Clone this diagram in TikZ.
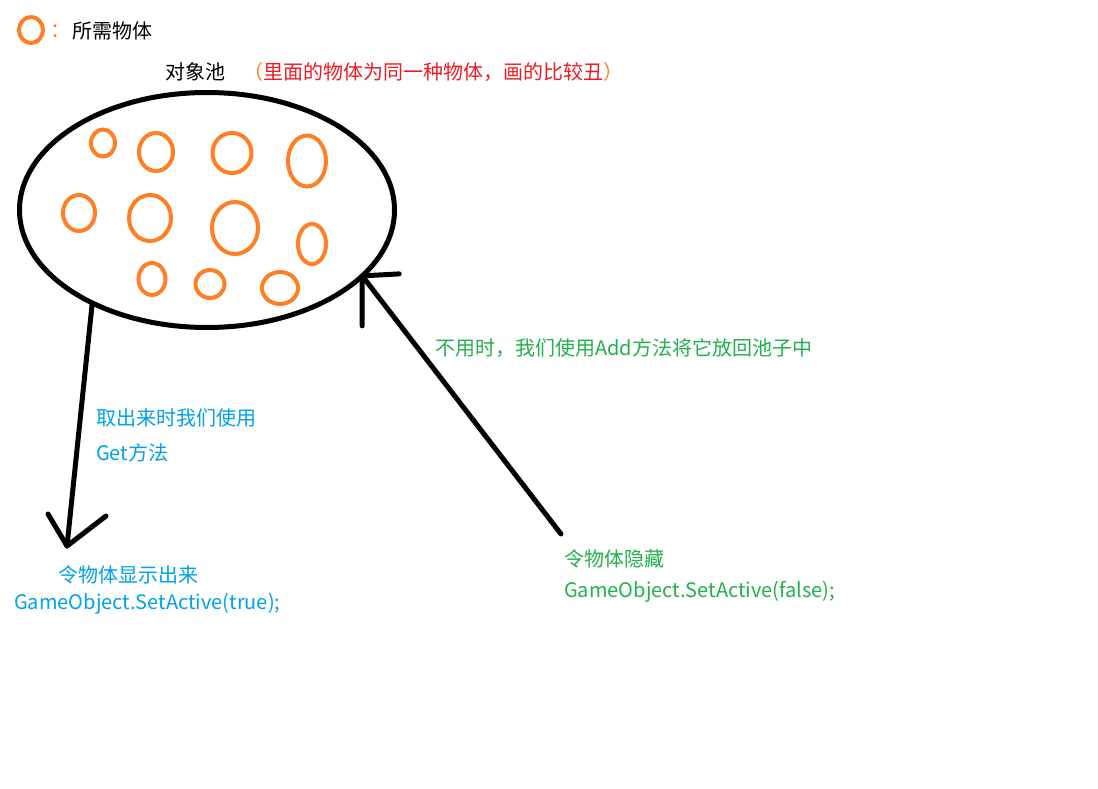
\documentclass[tikz,border=0pt]{standalone}
\usepackage{fontspec}
\setmainfont{Noto Sans CJK SC}
\usepackage{xcolor}
\usepackage{tikz}
\usetikzlibrary{positioning,shapes.geometric}
\definecolor{paintorange}{HTML}{FF7F27}
\definecolor{paintred}{HTML}{ED1C24}
\definecolor{paintblue}{HTML}{00A2E8}
\definecolor{paintgreen}{HTML}{22B14C}

\begin{document}
\begin{tikzpicture}[x=1pt,y=-1pt,
  lbl/.style={anchor=west,inner sep=0pt,font=\fontsize{20}{24}\selectfont},
  ball/.style={draw=paintorange,line width=4pt},
  stroke/.style={line width=5pt,line cap=round}]
  \useasboundingbox[fill=white] (0,0) rectangle (1098,789);
  \draw[ball] (31,30) ellipse [x radius=12, y radius=13];
  \node[lbl,text=paintorange] (colon) at (50,31) {：};
  \node[lbl] (legendTxt) at (72,31) {所需物体};
  \node[lbl] (poolTitle) at (165,72) {对象池};
  \node[lbl,text=paintred] (poolNote) at (243,72) {\textcolor{paintorange}{（}里面的物体为同一种物体，画的比较丑\textcolor{paintorange}{）}};
  \node[ellipse,draw,line width=5pt,minimum width=375pt,minimum height=235pt,inner sep=0pt,outer sep=0pt] (pool) at (207,210) {};
  \foreach \cx/\cy/\rx/\ry in {103/143/12/13.5, 156/152/17/19, 232/153/19.5/20, 307/161/19/25.5,
    79/213/16/18, 150/218/21/23, 235/228/23/26, 312/244/14/20,
    152/279/13.5/16, 210/284/14.5/14, 280/288/18/16}
    \draw[ball] (\cx,\cy) ellipse [x radius=\rx, y radius=\ry];
  \coordinate (getTip) at (67,546);
  \draw[stroke] (pool.219) -- (getTip);
  \draw[stroke] (getTip) -- ++(-19,-32) (getTip) -- ++(39,-30);
  \coordinate (addTip) at (pool.337);
  \coordinate (hideEnd) at (561,534);
  \draw[stroke] (hideEnd) -- (addTip);
  \draw[stroke] (addTip) -- ++(37,-2) (addTip) -- ++(0,50);
  \node[lbl,text=paintblue] (getTxt) at (96,418) {取出来时我们使用};
  \node[lbl,text=paintblue] (getTxtB) at (96,453) {Get方法};
  \node[lbl,text=paintblue] (showTxt) at (58,575) {令物体显示出来};
  \node[lbl,text=paintblue] (showCode) at (14,604) {GameObject.SetActive(true);};
  \node[lbl,text=paintgreen] (addTxt) at (435,348) {不用时，我们使用Add方法将它放回池子中};
  \node[lbl,text=paintgreen] (hideTxt) at (564,559) {令物体隐藏};
  \node[lbl,text=paintgreen] (hideCode) at (564,592) {GameObject.SetActive(false);};
\end{tikzpicture}
\end{document}
